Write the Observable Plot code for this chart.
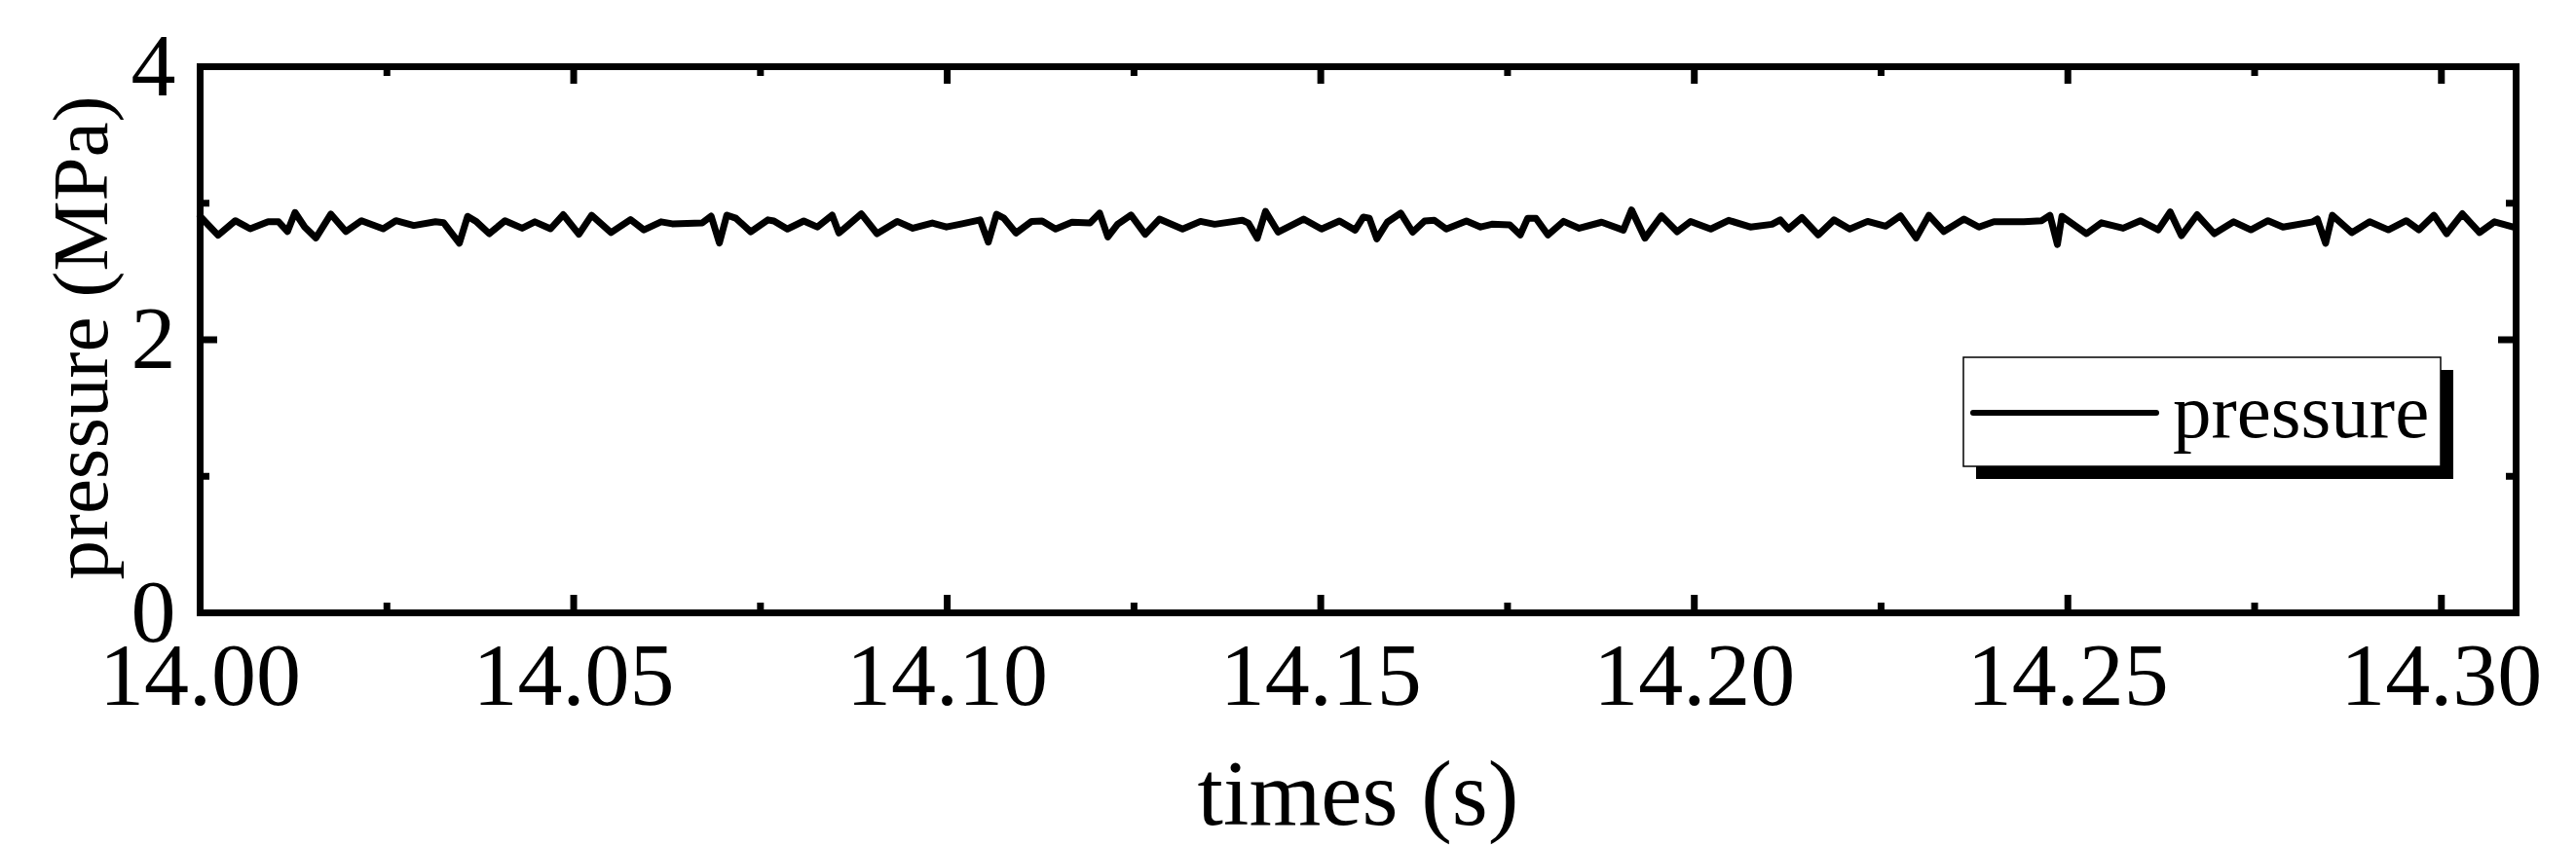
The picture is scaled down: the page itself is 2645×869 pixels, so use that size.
<!DOCTYPE html>
<html><head><meta charset="utf-8">
<script src="https://cdn.jsdelivr.net/npm/d3@7"></script>
<script src="https://cdn.jsdelivr.net/npm/@observablehq/plot@0.6"></script>
<style>
html,body{margin:0;padding:0;background:#fff;}
#chart svg{display:block;}
</style></head><body><div id="chart"></div>
<script>
const times = [
14.0000,14.0024,14.0047,14.0067,14.0091,14.0105,14.0117,14.0127,14.0140,14.0155,14.0175,14.0195,14.0216,14.0245,14.0262,14.0286,14.0315,14.0326,14.0347,14.0358,14.0370,14.0387,14.0408,14.0431,14.0448,14.0469,14.0486,14.0507,14.0524,14.0550,14.0576,14.0594,14.0617,
14.0632,14.0672,14.0684,14.0695,14.0705,14.0717,14.0737,14.0760,14.0768,14.0786,14.0808,14.0826,14.0846,14.0855,14.0866,14.0885,14.0906,14.0933,14.0954,14.0980,14.0999,14.1020,14.1044,14.1055,14.1066,14.1076,14.1092,14.1113,14.1127,14.1145,14.1167,14.1191,14.1204,14.1215,14.1228,14.1246,14.1265,14.1284,14.1315,14.1339,14.1358,14.1395,14.1403,14.1415,14.1426,14.1443,
14.1477,14.1501,14.1525,14.1546,14.1557,14.1565,14.1575,14.1589,14.1607,14.1623,14.1639,14.1652,14.1668,14.1695,14.1714,14.1729,14.1753,14.1767,14.1777,14.1788,14.1804,14.1825,14.1846,14.1876,14.1905,14.1916,14.1934,14.1956,14.1977,14.1995,14.2022,14.2046,14.2075,14.2104,14.2115,14.2126,14.2144,14.2166,14.2187,14.2208,14.2232,14.2256,14.2276,
14.2297,14.2314,14.2334,14.2361,14.2381,14.2401,14.2441,14.2465,14.2476,14.2486,14.2492,14.2525,14.2545,14.2574,14.2597,14.2621,14.2637,14.2652,14.2673,14.2696,14.2722,14.2745,14.2768,14.2788,14.2828,14.2834,14.2845,14.2854,14.2880,14.2904,14.2929,14.2953,14.2970,14.2990,14.3007,14.3028,14.3051,14.3071,14.3097
];
const pressure = [
2.904,2.766,2.872,2.813,2.864,2.864,2.793,2.932,2.825,2.746,2.920,2.793,2.872,2.813,2.872,2.837,2.864,2.857,2.707,2.904,2.864,2.777,2.872,2.817,2.864,2.813,2.916,2.773,2.912,2.785,2.880,2.805,2.864,
2.849,2.855,2.905,2.709,2.913,2.890,2.791,2.878,2.870,2.811,2.870,2.826,2.913,2.782,2.832,2.922,2.777,2.867,2.817,2.855,2.826,2.849,2.878,2.715,2.919,2.890,2.782,2.867,2.870,2.811,2.861,2.855,2.928,2.753,2.846,2.913,2.773,2.884,2.811,2.867,2.846,2.875,2.855,2.744,2.940,2.788,
2.884,2.811,2.870,2.803,2.899,2.890,2.739,2.861,2.928,2.788,2.870,2.875,2.811,2.870,2.826,2.846,2.841,2.768,2.890,2.890,2.768,2.867,2.817,2.861,2.803,2.951,2.744,2.908,2.791,2.867,2.811,2.875,2.826,2.846,2.878,2.811,2.896,2.768,2.878,2.811,2.867,2.832,2.908,
2.746,2.912,2.793,2.884,2.825,2.864,2.864,2.872,2.912,2.698,2.904,2.777,2.857,2.817,2.872,2.805,2.936,2.762,2.916,2.777,2.864,2.805,2.872,2.825,2.864,2.884,2.707,2.912,2.785,2.864,2.805,2.872,2.805,2.912,2.777,2.923,2.785,2.864,2.825
];
const xMajorTicks = [14.00, 14.05, 14.10, 14.15, 14.20, 14.25, 14.30];
const xMinorTicks = [14.025, 14.075, 14.125, 14.175, 14.225, 14.275];
const yMajorTicks = [0, 2, 4];
const yMinorTicks = [1, 3];
const xDomain = [14.0, 14.31];
const yDomain = [0, 4];
const seriesName = "pressure";
const xLabel = "times (s)";
const yLabel = "pressure (MPa)";

const W = 2645, H = 869;
const mL = 205, mR = 62, mT = 68, mB = 240;
const pw = W - mL - mR, ph = H - mT - mB;
const FONT = "'Liberation Serif','Times New Roman',Times,serif";
const majorLen = 18, minorLen = 10, tickW = 7;

const data = times.map((t, i) => ({t, v: pressure[i]}));

const chart = Plot.plot({
  width: W, height: H,
  marginLeft: mL, marginRight: mR, marginTop: mT, marginBottom: mB,
  style: {fontFamily: FONT, background: "white", color: "black", overflow: "visible"},
  x: {domain: xDomain},
  y: {domain: yDomain},
  marks: [
    Plot.line(data, {x: "t", y: "v", stroke: "black", strokeWidth: 7, strokeLinejoin: "round", strokeLinecap: "round"}),
    Plot.frame({stroke: "black", strokeWidth: 7}),
    Plot.tickX(xMajorTicks, {x: d => d, stroke: "black", strokeWidth: tickW, insetTop: ph - majorLen}),
    Plot.tickX(xMinorTicks, {x: d => d, stroke: "black", strokeWidth: tickW, insetTop: ph - minorLen}),
    Plot.tickX(xMajorTicks, {x: d => d, stroke: "black", strokeWidth: tickW, insetBottom: ph - majorLen}),
    Plot.tickX(xMinorTicks, {x: d => d, stroke: "black", strokeWidth: tickW, insetBottom: ph - minorLen}),
    Plot.tickY(yMajorTicks, {y: d => d, stroke: "black", strokeWidth: tickW, insetRight: pw - majorLen}),
    Plot.tickY(yMinorTicks, {y: d => d, stroke: "black", strokeWidth: tickW, insetRight: pw - minorLen}),
    Plot.tickY(yMajorTicks, {y: d => d, stroke: "black", strokeWidth: tickW, insetLeft: pw - majorLen}),
    Plot.tickY(yMinorTicks, {y: d => d, stroke: "black", strokeWidth: tickW, insetLeft: pw - minorLen}),
    Plot.axisX(xMajorTicks, {tickSize: 0, tickPadding: 29, fontSize: 92, tickFormat: d3.format(".2f"), label: null}),
    Plot.axisY(yMajorTicks, {tickSize: 0, tickPadding: 25, fontSize: 92, tickFormat: d => String(d), label: null}),
    Plot.text([xLabel], {frameAnchor: "bottom", textAnchor: "middle", dy: 217, fontSize: 95, fill: "black"}),
    Plot.text([yLabel], {frameAnchor: "left", textAnchor: "middle", rotate: -90, dx: -121, dy: -2, fontSize: 81, fill: "black"})
  ]
});

// legend box with drop shadow
const svg = d3.select(chart);
const lg = svg.append("g").attr("font-family", FONT);
const bx = 2016, by = 367, bw = 490, bh = 112, off = 13;
lg.append("rect").attr("x", bx + off).attr("y", by + off).attr("width", bw).attr("height", bh).attr("fill", "black");
lg.append("rect").attr("x", bx).attr("y", by).attr("width", bw).attr("height", bh)
  .attr("fill", "white").attr("stroke", "black").attr("stroke-width", 1.5);
lg.append("line").attr("x1", bx + 10).attr("x2", bx + 198).attr("y1", by + 57).attr("y2", by + 57)
  .attr("stroke", "black").attr("stroke-width", 6).attr("stroke-linecap", "round");
lg.append("text").attr("x", bx + 215).attr("y", by + 82).attr("font-size", 79)
  .attr("text-anchor", "start").attr("fill", "black").text(seriesName);

document.getElementById("chart").appendChild(chart);
</script>
</body></html>
